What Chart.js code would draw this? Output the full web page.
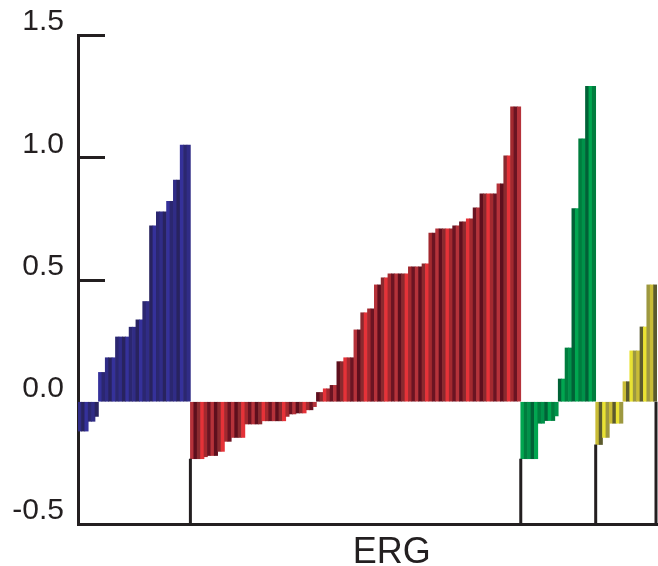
<!DOCTYPE html>
<html>
<head>
<meta charset="utf-8">
<script src="https://cdn.jsdelivr.net/npm/chart.js@4/dist/chart.umd.min.js"></script>
<style>
  html, body { margin: 0; padding: 0; background: #fff; }
  #wrap { width: 658px; height: 566px; position: relative; }
</style>
</head>
<body>
<div id="wrap"><canvas id="myChart" width="658" height="566"></canvas></div>
<script>
// values, one bar per sample, sorted within each group
const blueValues = [
  -0.12, -0.12, -0.12, -0.08, -0.08, -0.06,
  0.12, 0.12, 0.18, 0.18, 0.18, 0.265, 0.265, 0.265, 0.265, 0.305, 0.305,
  0.335, 0.335, 0.41, 0.41, 0.72, 0.72, 0.777, 0.777, 0.777, 0.82, 0.82,
  0.907, 0.907, 1.05, 1.05, 1.05,
];
const redValues = [
  -0.233, -0.233, -0.233, -0.233, -0.225, -0.22, -0.22, -0.22, -0.203, -0.203,
  -0.162, -0.162, -0.146, -0.146, -0.146, -0.146, -0.091, -0.091, -0.091, -0.091,
  -0.091, -0.078, -0.078, -0.078, -0.078, -0.078, -0.078, -0.078, -0.06, -0.05,
  -0.05, -0.046, -0.046, -0.046, -0.033, -0.033, -0.02,
  0.038, 0.038, 0.053, 0.053, 0.067, 0.067, 0.164, 0.164, 0.18, 0.18, 0.18,
  0.294, 0.294, 0.364, 0.364, 0.38, 0.38, 0.478, 0.478, 0.507, 0.507,
  0.523, 0.523, 0.523, 0.523, 0.523, 0.523, 0.552, 0.552, 0.552, 0.552,
  0.564, 0.564, 0.69, 0.69, 0.707, 0.707, 0.707, 0.707, 0.707, 0.72, 0.72,
  0.736, 0.736, 0.748, 0.748, 0.793, 0.793, 0.85, 0.85, 0.85, 0.85, 0.85,
  0.891, 0.891, 1.006, 1.006, 1.206, 1.206, 1.206,
];
const greenValues = [
  -0.233, -0.233, -0.233, -0.233, -0.233, -0.088, -0.088, -0.077, -0.077, -0.077, -0.058,
  0.093, 0.093, 0.22, 0.22, 0.79, 0.79, 1.075, 1.075, 1.29, 1.29, 1.29,
];
const yellowValues = [
  -0.175, -0.175, -0.146, -0.146, -0.088, -0.088, -0.088, -0.088,
  0.082, 0.082, 0.208, 0.208, 0.208, 0.306, 0.306, 0.478, 0.478, 0.478,
];
const yTicks = [-0.5, 0.0, 0.5, 1.0, 1.5];
const xTitle = "ERG";

const groups = [
  { values: blueValues, palette: ["#302c86", "#28235f", "#35319a", "#2b2770"] },
  { values: redValues, palette: ["#b5323a", "#5e0f1d", "#8a2a2f", "#e53238", "#a3292f", "#6b1422"] },
  { values: greenValues, palette: ["#00a650", "#007d3e", "#00924a", "#006236"] },
  { values: yellowValues, palette: ["#c9bc36", "#5b5a2d", "#e9e233", "#9d9840"] },
];

const allValues = [];
const barColors = [];
const boundaries = [];
groups.forEach((g) => {
  g.values.forEach((v, i) => {
    allValues.push(v);
    barColors.push(g.palette[i % g.palette.length]);
  });
  boundaries.push(allValues.length);
});
const labels = allValues.map((v, i) => String(i + 1));

const ink = "#231f20";
const font = "'Liberation Sans', Helvetica, Arial, sans-serif";

// short tick marks pointing into the plot + group separator lines + axis title
const decorations = {
  id: "decorations",
  beforeDatasetsDraw(chart) {
    const { ctx, chartArea, scales } = chart;
    ctx.save();
    ctx.strokeStyle = ink;
    ctx.lineWidth = 3;
    [0.5, 1.0, 1.5].forEach((v) => {
      const y = Math.round(scales.y.getPixelForValue(v)) + 0.5;
      ctx.beginPath();
      ctx.moveTo(chartArea.left, y);
      ctx.lineTo(chartArea.left + 27, y);
      ctx.stroke();
    });
    ctx.restore();
  },
  afterDatasetsDraw(chart) {
    const { ctx, chartArea, scales } = chart;
    const x = scales.x;
    const y = scales.y;
    ctx.save();
    ctx.strokeStyle = ink;
    ctx.lineWidth = 3;
    boundaries.forEach((b) => {
      let px, top;
      if (b < allValues.length) {
        px = (x.getPixelForValue(b - 1) + x.getPixelForValue(b)) / 2;
        top = y.getPixelForValue(Math.min(allValues[b], 0));
      } else {
        px = chartArea.right - 1;
        top = y.getPixelForValue(0);
      }
      ctx.beginPath();
      ctx.moveTo(px, chartArea.bottom);
      ctx.lineTo(px, top);
      ctx.stroke();
    });
    ctx.fillStyle = ink;
    ctx.font = "36px " + font;
    ctx.textAlign = "center";
    ctx.textBaseline = "alphabetic";
    ctx.fillText(xTitle, chartArea.left + chartArea.width * 0.542, 563);
    ctx.restore();
  },
};

const ctx = document.getElementById("myChart").getContext("2d");
const myChart = new Chart(ctx, {
  type: "bar",
  data: {
    labels: labels,
    datasets: [
      {
        data: allValues,
        backgroundColor: barColors,
        borderWidth: 0,
        barPercentage: 1,
        categoryPercentage: 1,
      },
    ],
  },
  options: {
    responsive: false,
    animation: false,
    layout: { padding: { left: 0, top: 35, right: 1, bottom: 42 } },
    plugins: {
      legend: { display: false },
      tooltip: { enabled: false },
    },
    scales: {
      x: {
        ticks: { display: false },
        grid: { drawOnChartArea: false, drawTicks: false },
        border: { display: true, color: ink, width: 3 },
        afterFit: (s) => { s.height = 0; },
      },
      y: {
        min: -0.5,
        max: 1.5,
        afterBuildTicks: (s) => { s.ticks = yTicks.map((v) => ({ value: v })); },
        ticks: {
          callback: (v) => Number(v).toFixed(1),
          color: ink,
          font: { family: font, size: 30 },
          padding: 14,
          labelOffset: -13,
        },
        grid: { drawOnChartArea: false, drawTicks: false },
        border: { display: true, color: ink, width: 3 },
        afterFit: (s) => { s.width = 78; },
      },
    },
  },
  plugins: [decorations],
});
</script>
</body>
</html>
